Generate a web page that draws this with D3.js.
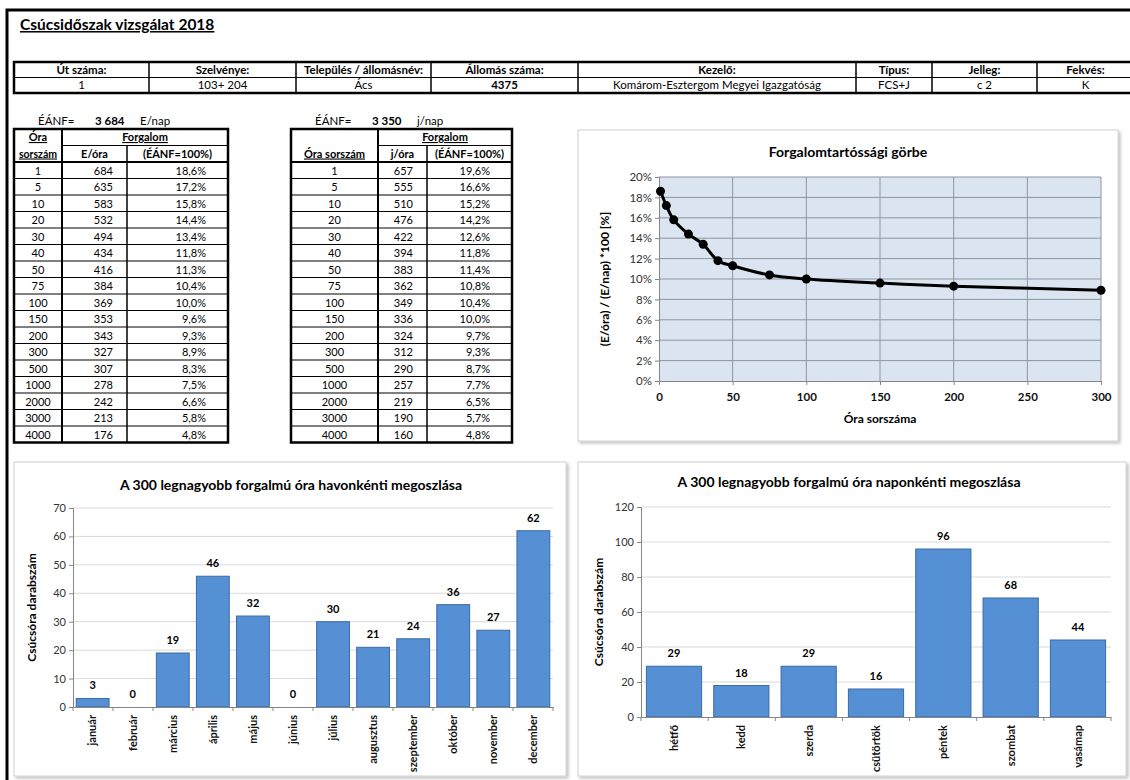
<!DOCTYPE html>
<html>
<head>
<meta charset="utf-8">
<script src="https://cdn.jsdelivr.net/npm/d3@7"></script>
<style>
  body { margin: 0; background: #fff; }
  svg { font-family: Lato, "Noto Sans", sans-serif; display: block; }
  .bold { font-weight: bold; }
</style>
</head>
<body>
<div id="root"></div>
<script>
"use strict";

// header info
const headerLabels = ["Út száma:", "Szelvénye:", "Település / állomásnév:", "Állomás száma:", "Kezelő:", "Típus:", "Jelleg:", "Fekvés:"];
const headerValues = ["1", "103+ 204", "Ács", "4375", "Komárom-Esztergom Megyei Igazgatóság", "FCS+J", "c 2", "K"];

// tables
const hourRanks = [1, 5, 10, 20, 30, 40, 50, 75, 100, 150, 200, 300, 500, 1000, 2000, 3000, 4000];
const vehPerHour = [684, 635, 583, 532, 494, 434, 416, 384, 369, 353, 343, 327, 307, 278, 242, 213, 176];
const vehPct = [18.6, 17.2, 15.8, 14.4, 13.4, 11.8, 11.3, 10.4, 10.0, 9.6, 9.3, 8.9, 8.3, 7.5, 6.6, 5.8, 4.8];
const unitPerHour = [657, 555, 510, 476, 422, 394, 383, 362, 349, 336, 324, 312, 290, 257, 219, 190, 160];
const unitPct = [19.6, 16.6, 15.2, 14.2, 12.6, 11.8, 11.4, 10.8, 10.4, 10.0, 9.7, 9.3, 8.7, 7.7, 6.5, 5.7, 4.8];
const aadtVeh = 3684;
const aadtUnit = 3350;

// bar charts
const months = ["január", "február", "március", "április", "május", "június", "július", "augusztus", "szeptember", "október", "november", "december"];
const monthCounts = [3, 0, 19, 46, 32, 0, 30, 21, 24, 36, 27, 62];
const days = ["hétfő", "kedd", "szerda", "csütörtök", "péntek", "szombat", "vasámap"];
const dayCounts = [29, 18, 29, 16, 96, 68, 44];

const hu = d3.formatLocale({ decimal: ",", thousands: " ", grouping: [3], currency: ["", " Ft"] });
const fmtPct = (v) => hu.format(".1f")(v) + "%";
const fmtInt = hu.format(",d");

const width = 1130;
const height = 780;
const fs = "11.5px";

const svg = d3.select("#root")
  .append("svg")
  .attr("width", width)
  .attr("height", height);

const defs = svg.append("defs");
const shadow = defs.append("filter").attr("id", "shadow").attr("x", "-5%").attr("y", "-5%").attr("width", "110%").attr("height", "110%");
shadow.append("feDropShadow").attr("dx", 2).attr("dy", 2).attr("stdDeviation", 1.5).attr("flood-color", "#000").attr("flood-opacity", 0.25);

// page frame
svg.append("path")
  .attr("d", "M7,780 L7,10 L1130,10")
  .attr("fill", "none")
  .attr("stroke", "#000")
  .attr("stroke-width", 3);

svg.append("text")
  .attr("x", 20).attr("y", 30)
  .attr("class", "bold")
  .style("font-size", "15.5px")
  .style("text-decoration", "underline")
  .text("Csúcsidőszak vizsgálat 2018");

// ---------- header table ----------
const hdrCols = [14, 149, 296, 431, 578, 856, 932, 1037, 1140];
const hdrTop = 62;
const hdrRow = 15.5;
const hdr = svg.append("g");

hdr.selectAll("text.lbl")
  .data(headerLabels)
  .enter()
  .append("text")
  .attr("class", "lbl bold")
  .attr("x", (d, i) => (hdrCols[i] + Math.min(hdrCols[i + 1], 1130)) / 2 + (i === 7 ? 2 : 0))
  .attr("y", hdrTop + hdrRow / 2 + 4)
  .attr("text-anchor", "middle")
  .style("font-size", fs)
  .text((d) => d);

hdr.selectAll("text.val")
  .data(headerValues)
  .enter()
  .append("text")
  .attr("class", (d, i) => (i === 3 ? "val bold" : "val"))
  .attr("x", (d, i) => (hdrCols[i] + Math.min(hdrCols[i + 1], 1130)) / 2 + (i === 7 ? 2 : 0))
  .attr("y", hdrTop + hdrRow * 1.5 + 4)
  .attr("text-anchor", "middle")
  .style("font-size", fs)
  .text((d) => d);

hdr.append("line")
  .attr("x1", 14).attr("x2", 1130)
  .attr("y1", hdrTop + hdrRow).attr("y2", hdrTop + hdrRow)
  .attr("stroke", "#000");
hdr.selectAll("line.v")
  .data(hdrCols.slice(1, -1))
  .enter()
  .append("line")
  .attr("x1", (d) => d).attr("x2", (d) => d)
  .attr("y1", hdrTop).attr("y2", hdrTop + hdrRow * 2)
  .attr("stroke", "#000")
  .attr("stroke-width", 1.5);
hdr.append("rect")
  .attr("x", 14).attr("y", hdrTop)
  .attr("width", 1140).attr("height", hdrRow * 2)
  .attr("fill", "none")
  .attr("stroke", "#000")
  .attr("stroke-width", 2.5);

// ---------- data tables ----------
function drawTable(opts) {
  const { cols, aadt, unit, unitCol, counts, pcts, twoLineRank } = opts;
  const g = svg.append("g");
  const top = 129;
  const headRow = 16.5;
  const rowY = d3.scaleLinear().domain([0, hourRanks.length]).range([top + headRow * 2, top + headRow * 2 + 16.5 * hourRanks.length]);
  const bottom = rowY(hourRanks.length);

  // AADT line
  g.append("text").attr("x", cols[0] + 24).attr("y", 125).style("font-size", fs).text("ÉÁNF=");
  g.append("text").attr("x", cols[0] + 81).attr("y", 125).attr("class", "bold").style("font-size", fs).text(fmtInt(aadt));
  g.append("text").attr("x", cols[0] + 126).attr("y", 125).style("font-size", fs).text(unit);

  // header
  const midRight = (cols[1] + cols[3]) / 2;
  g.append("text").attr("x", midRight).attr("y", top + 12).attr("text-anchor", "middle")
    .attr("class", "bold").style("font-size", "11px").style("text-decoration", "underline").text("Forgalom");
  g.append("text").attr("x", (cols[1] + cols[2]) / 2).attr("y", top + headRow + 12).attr("text-anchor", "middle")
    .attr("class", "bold").style("font-size", "11px").text(unitCol);
  g.append("text").attr("x", (cols[2] + cols[3]) / 2).attr("y", top + headRow + 12).attr("text-anchor", "middle")
    .attr("class", "bold").style("font-size", "11px").text("(ÉÁNF=100%)");
  if (twoLineRank) {
    g.append("text").attr("x", (cols[0] + cols[1]) / 2).attr("y", top + 12).attr("text-anchor", "middle")
      .attr("class", "bold").style("font-size", "11px").style("text-decoration", "underline").text("Óra");
    g.append("text").attr("x", (cols[0] + cols[1]) / 2).attr("y", top + headRow + 12).attr("text-anchor", "middle")
      .attr("class", "bold").style("font-size", "10.5px").style("text-decoration", "underline").text("sorszám");
  } else {
    g.append("text").attr("x", (cols[0] + cols[1]) / 2).attr("y", top + headRow + 12).attr("text-anchor", "middle")
      .attr("class", "bold").style("font-size", "11px").style("text-decoration", "underline").text("Óra sorszám");
  }

  // rows
  const rows = g.selectAll("g.row")
    .data(hourRanks)
    .enter()
    .append("g")
    .attr("class", "row")
    .attr("transform", (d, i) => `translate(0,${rowY(i)})`);

  rows.append("text")
    .attr("x", (cols[0] + cols[1]) / 2).attr("y", 12.5).attr("text-anchor", "middle")
    .style("font-size", "11px").text((d) => d);
  rows.append("text")
    .attr("x", cols[2] - 14).attr("y", 12.5).attr("text-anchor", "end")
    .style("font-size", "11px").text((d, i) => counts[i]);
  rows.append("text")
    .attr("x", cols[3] - 22).attr("y", 12.5).attr("text-anchor", "end")
    .style("font-size", "11px").text((d, i) => fmtPct(pcts[i]));

  rows.append("line")
    .attr("x1", cols[0]).attr("x2", cols[3])
    .attr("y1", 0).attr("y2", 0)
    .attr("stroke", "#000").attr("stroke-width", 1);

  g.append("line")
    .attr("x1", cols[1]).attr("x2", cols[3])
    .attr("y1", top + headRow).attr("y2", top + headRow)
    .attr("stroke", "#000");
  g.append("line")
    .attr("x1", cols[0]).attr("x2", cols[3])
    .attr("y1", top + headRow * 2).attr("y2", top + headRow * 2)
    .attr("stroke", "#000").attr("stroke-width", 2);
  g.append("line")
    .attr("x1", cols[1]).attr("x2", cols[1])
    .attr("y1", top).attr("y2", bottom)
    .attr("stroke", "#000").attr("stroke-width", 2);
  g.append("line")
    .attr("x1", cols[2]).attr("x2", cols[2])
    .attr("y1", top + headRow).attr("y2", bottom)
    .attr("stroke", "#000").attr("stroke-width", 1.5);
  g.append("rect")
    .attr("x", cols[0]).attr("y", top)
    .attr("width", cols[3] - cols[0]).attr("height", bottom - top)
    .attr("fill", "none").attr("stroke", "#000").attr("stroke-width", 2.5);
}

drawTable({ cols: [14, 62, 127, 228], aadt: aadtVeh, unit: "E/nap", unitCol: "E/óra", counts: vehPerHour, pcts: vehPct, twoLineRank: true });
drawTable({ cols: [291, 378, 427, 512], aadt: aadtUnit, unit: "j/nap", unitCol: "j/óra", counts: unitPerHour, pcts: unitPct, twoLineRank: false });

// ---------- panels ----------
function panel(x, y, w, h) {
  svg.append("rect")
    .attr("x", x).attr("y", y).attr("width", w).attr("height", h)
    .attr("fill", "#fff").attr("stroke", "#d0d0d0")
    .attr("filter", "url(#shadow)");
}

// ---------- duration curve ----------
panel(578, 130, 540, 311);
const curveRanks = hourRanks.filter((r) => r <= 300);
const curvePts = curveRanks.map((r, i) => ({ x: r, y: vehPct[i] / 100 }));

const lx = d3.scaleLinear().domain([0, 300]).range([659, 1101]);
const ly = d3.scaleLinear().domain([0, 0.2]).range([381, 177]);

svg.append("rect")
  .attr("x", lx(0)).attr("y", ly(0.2))
  .attr("width", lx(300) - lx(0)).attr("height", ly(0) - ly(0.2))
  .attr("fill", "#dbe5f1");

svg.append("g")
  .selectAll("line")
  .data(ly.ticks(10).slice(1))
  .enter()
  .append("line")
  .attr("x1", lx(0)).attr("x2", lx(300))
  .attr("y1", (d) => ly(d)).attr("y2", (d) => ly(d))
  .attr("stroke", "#8d959e");
svg.append("g")
  .selectAll("line")
  .data(d3.range(50, 301, 50))
  .enter()
  .append("line")
  .attr("x1", (d) => lx(d)).attr("x2", (d) => lx(d))
  .attr("y1", ly(0)).attr("y2", ly(0.2))
  .attr("stroke", "#8d959e");

const lyAxis = svg.append("g")
  .attr("transform", `translate(${lx(0)},0)`)
  .call(d3.axisLeft(ly).ticks(10).tickFormat(d3.format(".0%")).tickSizeOuter(0).tickSize(4));
lyAxis.select(".domain").attr("stroke", "#868686");
lyAxis.selectAll(".tick line").attr("stroke", "#868686");
lyAxis.selectAll("text").style("font-family", "Lato, sans-serif").style("font-size", "11.5px").attr("fill", "#333");

const lxAxis = svg.append("g")
  .attr("transform", `translate(0,${ly(0)})`)
  .call(d3.axisBottom(lx).tickValues(d3.range(0, 301, 50)).tickSizeOuter(0).tickSize(4));
lxAxis.select(".domain").attr("stroke", "#868686");
lxAxis.selectAll(".tick line").attr("stroke", "#868686");
lxAxis.selectAll("text").style("font-family", "Lato, sans-serif").style("font-size", "11.5px").style("font-weight", "bold").attr("fill", "#111").attr("dy", "1.15em");

svg.append("path")
  .datum(curvePts)
  .attr("fill", "none")
  .attr("stroke", "#000")
  .attr("stroke-width", 3)
  .attr("d", d3.line().x((d) => lx(d.x)).y((d) => ly(d.y)).curve(d3.curveCatmullRom.alpha(0.5)));

svg.append("g")
  .selectAll("circle")
  .data(curvePts)
  .enter()
  .append("circle")
  .attr("cx", (d) => lx(d.x)).attr("cy", (d) => ly(d.y))
  .attr("r", 4.5)
  .attr("fill", "#000");

svg.append("text").attr("x", 848).attr("y", 157).attr("text-anchor", "middle").attr("class", "bold")
  .style("font-size", "14px").text("Forgalomtartóssági görbe");
svg.append("text").attr("x", 880).attr("y", 423).attr("text-anchor", "middle").attr("class", "bold")
  .style("font-size", "12px").text("Óra sorszáma");
svg.append("text").attr("transform", `translate(609,${(ly(0) + ly(0.2)) / 2}) rotate(-90)`).attr("text-anchor", "middle").attr("class", "bold")
  .style("font-size", "12px").text("(E/óra) / (E/nap) *100 [%]");

// ---------- bar charts ----------
function barChart(opts) {
  const { cats, vals, x0, x1, yTop, yBottom, max, step, title, titleX, titleY, labelX } = opts;
  const x = d3.scaleBand().domain(cats).range([x0, x1]).paddingInner(0.18).paddingOuter(0.08);
  const y = d3.scaleLinear().domain([0, max]).range([yBottom, yTop]);
  const g = svg.append("g");

  g.selectAll("line.grid")
    .data(d3.range(step, max + 1, step))
    .enter()
    .append("line")
    .attr("class", "grid")
    .attr("x1", x0).attr("x2", x1)
    .attr("y1", (d) => y(d)).attr("y2", (d) => y(d))
    .attr("stroke", "#d9d9d9");

  const ya = g.append("g")
    .attr("transform", `translate(${x0},0)`)
    .call(d3.axisLeft(y).tickValues(d3.range(0, max + 1, step)).tickSizeOuter(0).tickSize(4));
  ya.select(".domain").attr("stroke", "#868686");
  ya.selectAll(".tick line").attr("stroke", "#868686");
  ya.selectAll("text").style("font-family", "Lato, sans-serif").style("font-size", "11px").attr("fill", "#333");

  g.selectAll("rect.bar")
    .data(vals)
    .enter()
    .append("rect")
    .attr("class", "bar")
    .attr("x", (d, i) => x(cats[i]))
    .attr("y", (d) => y(d))
    .attr("width", x.bandwidth())
    .attr("height", (d) => yBottom - y(d))
    .attr("fill", "#5590d5")
    .attr("stroke", (d) => (d > 0 ? "#3b6aa3" : "none"))
    .attr("stroke-width", 1);

  g.selectAll("text.val")
    .data(vals)
    .enter()
    .append("text")
    .attr("class", "val bold")
    .attr("x", (d, i) => x(cats[i]) + x.bandwidth() / 2)
    .attr("y", (d) => y(d) - 9)
    .attr("text-anchor", "middle")
    .style("font-size", "11px")
    .text((d) => d);

  const xa = g.append("g")
    .attr("transform", `translate(0,${yBottom})`)
    .call(d3.axisBottom(x).tickSizeOuter(0).tickSize(0));
  xa.select(".domain").attr("stroke", "#868686");
  xa.selectAll(".tick text")
    .style("font-family", "Lato, sans-serif")
    .style("font-size", "11px")
    .style("font-weight", "bold")
    .attr("fill", "#111")
    .attr("transform", "rotate(-90)")
    .attr("text-anchor", "end")
    .attr("x", -8)
    .attr("y", 0)
    .attr("dy", "0.35em");
  // category boundary ticks
  g.selectAll("line.sep")
    .data(d3.range(cats.length + 1))
    .enter()
    .append("line")
    .attr("class", "sep")
    .attr("x1", (d) => x0 + (x1 - x0) * d / cats.length)
    .attr("x2", (d) => x0 + (x1 - x0) * d / cats.length)
    .attr("y1", yBottom).attr("y2", yBottom + 4)
    .attr("stroke", "#868686");

  g.append("text").attr("x", titleX).attr("y", titleY).attr("text-anchor", "middle").attr("class", "bold")
    .style("font-size", "14px").text(title);
  g.append("text").attr("transform", `translate(${labelX},${(yTop + yBottom) / 2}) rotate(-90)`)
    .attr("text-anchor", "middle").attr("class", "bold")
    .style("font-size", "12px").text("Csúcsóra darabszám");
}

panel(14, 462, 552, 314);
barChart({
  cats: months, vals: monthCounts,
  x0: 73, x1: 553, yTop: 508, yBottom: 707, max: 70, step: 10,
  title: "A 300 legnagyobb forgalmú óra havonkénti megoszlása", titleX: 291, titleY: 490, labelX: 36,
});

panel(578, 462, 548, 314);
barChart({
  cats: days, vals: dayCounts,
  x0: 641, x1: 1111, yTop: 507, yBottom: 717, max: 120, step: 20,
  title: "A 300 legnagyobb forgalmú óra naponkénti megoszlása", titleX: 849, titleY: 487, labelX: 603,
});
</script>
</body>
</html>
